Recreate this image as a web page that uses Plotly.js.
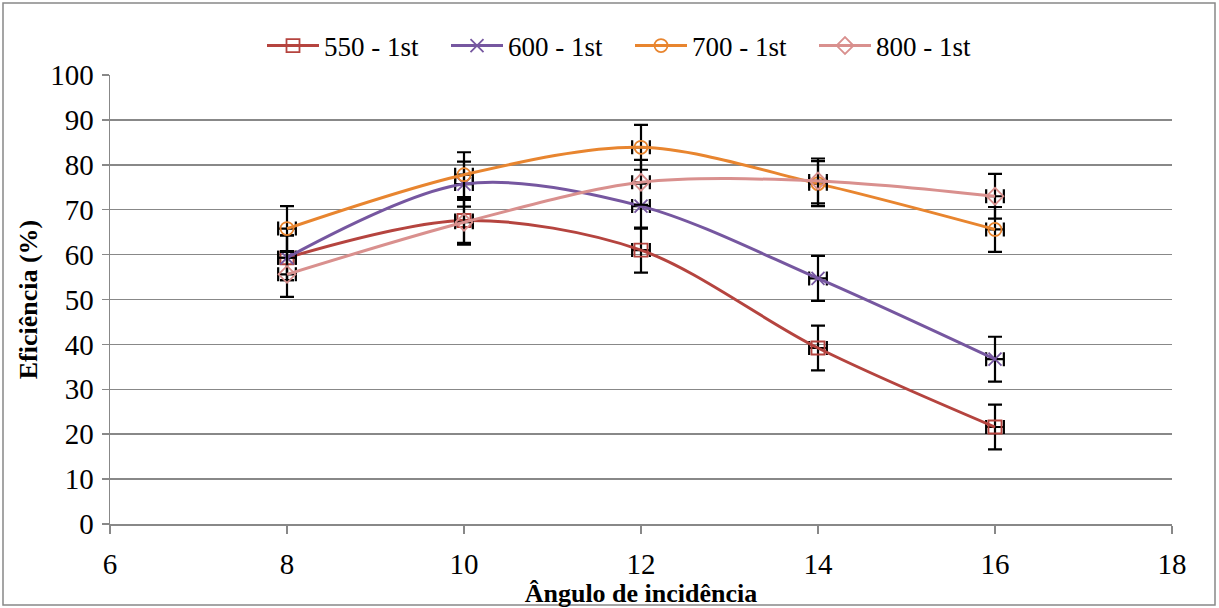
<!DOCTYPE html>
<html>
<head>
<meta charset="utf-8">
<script src="https://cdn.plot.ly/plotly-3.0.1.min.js"></script>
<style>body{margin:0;background:#fff}#chart{width:1219px;height:608px}</style>
</head>
<body>
<div id="chart"></div>
<script>
const angles = [8, 10, 12, 14, 16];
const seriesNames = ["550 - 1st", "600 - 1st", "700 - 1st", "800 - 1st"];
const eff550 = [59.3, 67.6, 61.0, 39.2, 21.6];
const eff600 = [59.3, 75.7, 70.8, 54.7, 36.7];
const eff700 = [65.8, 77.8, 83.9, 75.8, 65.6];
const eff800 = [55.6, 67.2, 76.1, 76.4, 73.0];
const yErr = 5;
const xErr = 0.1;
const colors = ["#B5443F", "#7657A0", "#E8852F", "#D9908E"];
const symbols = ["square-open", "x-thin-open", "circle-open", "diamond-open"];
const values = [eff550, eff600, eff700, eff800];

const FAM = "Liberation Serif";
const traces = values.map((v, i) => ({
  x: angles, y: v, name: seriesNames[i], type: "scatter", mode: "lines+markers",
  line: {color: colors[i], width: 3, shape: "spline", smoothing: 0.9},
  marker: {symbol: symbols[i], size: 13, color: colors[i], line: {color: colors[i], width: 1.8}},
  error_y: {type: "constant", value: yErr, color: "#000", thickness: 2.2, width: 7},
  error_x: {type: "constant", value: xErr, color: "#000", thickness: 2.2, width: 7}
}));

const W = 1062, H = 449, L = 110, T = 75;
const layout = {
  width: 1219, height: 608,
  margin: {l: L, r: 47, t: T, b: 84},
  paper_bgcolor: "#fff", plot_bgcolor: "#fff",
  font: {family: FAM, size: 28, color: "#000"},
  showlegend: true,
  legend: {orientation: "h", x: (262 - L) / W, xanchor: "left", y: (524 - 46) / H, yanchor: "middle",
           font: {family: FAM, size: 27, color: "#000"}, itemwidth: 52,
           entrywidth: 117, entrywidthmode: "pixels", bgcolor: "rgba(0,0,0,0)"},
  xaxis: {range: [6, 18], dtick: 2, tick0: 6, showgrid: false, zeroline: false,
          showline: true, linecolor: "#888", linewidth: 1.5, ticks: "outside", ticklen: 8,
          tickcolor: "#888", tickwidth: 1.5, ticklabelstandoff: 6,
          tickfont: {family: FAM, size: 29, color: "#000"},
          title: {text: "<b>Ângulo de incidência</b>", font: {family: FAM, size: 26, color: "#000"}, standoff: 0}},
  yaxis: {range: [0, 100], dtick: 10, showgrid: true, gridcolor: "#888", gridwidth: 1.5,
          zeroline: false, showline: true, linecolor: "#888", linewidth: 1.5, ticks: "outside",
          ticklen: 7, tickcolor: "#888", tickwidth: 1.5, ticklabelstandoff: 2,
          tickfont: {family: FAM, size: 29, color: "#000"},
          title: {text: "<b>Eficiência (%)</b>", font: {family: FAM, size: 26, color: "#000"}, standoff: 5}},
  shapes: [{type: "rect", xref: "paper", yref: "paper",
            x0: (3 - L) / W, x1: (1215 - L) / W, y0: (524 - 605) / H, y1: (524 - 3) / H,
            line: {color: "#888", width: 1.5}, fillcolor: "rgba(0,0,0,0)"}]
};
Plotly.newPlot("chart", traces, layout, {displayModeBar: false, staticPlot: true});
</script>
</body>
</html>
